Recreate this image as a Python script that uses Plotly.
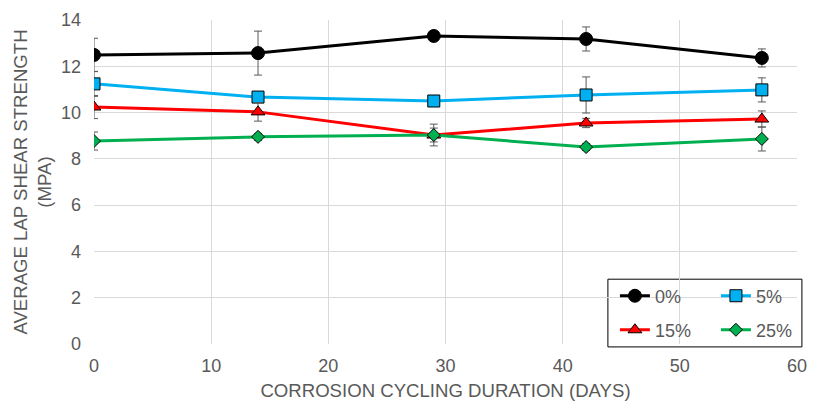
import plotly.graph_objects as go

days = [0, 14, 29, 42, 57]
s0 = [12.49, 12.57, 13.31, 13.18, 12.36]
s0_err = [0.72, 0.95, 0.1, 0.52, 0.39]
s5 = [11.24, 10.67, 10.50, 10.76, 10.98]
s5_err = [0.54, 0.2, 0.1, 0.78, 0.52]
s15 = [10.24, 10.03, 9.03, 9.55, 9.72]
s15_err = [0.5, 0.4, 0.47, 0.2, 0.35]
s25 = [8.77, 8.95, 9.03, 8.51, 8.86]
s25_err = [0.39, 0.15, 0.3, 0.15, 0.52]

names = ["0%", "5%", "15%", "25%"]
values = [s0, s5, s15, s25]
errors = [s0_err, s5_err, s15_err, s25_err]
colors = ["#000000", "#00B0F0", "#FF0000", "#00B050"]
symbols = ["circle", "square", "triangle-up", "diamond"]
msizes = [13, 12, 12, 10]
legends = ["legend", "legend", "legend2", "legend2"]

FONT = "Liberation Sans, Arial, sans-serif"
GRAY = "#595959"
FS = 18
TFS = 18.6

fig = go.Figure()
for n, v, e, c, s, ms, lg in zip(names, values, errors, colors, symbols, msizes, legends):
    fig.add_trace(go.Scatter(
        x=days, y=v, name=n, mode="lines+markers",
        line=dict(color=c, width=3),
        marker=dict(symbol=s, size=ms, color=c, line=dict(color="#000000", width=1)),
        error_y=dict(type="data", array=e, visible=True, color=GRAY, thickness=1, width=4),
        legend=lg,
    ))

fig.update_layout(
    width=814, height=405,
    margin=dict(l=94, r=17, t=20, b=61, autoexpand=False),
    paper_bgcolor="white", plot_bgcolor="white",
    font=dict(family=FONT, size=FS, color=GRAY),
    xaxis=dict(
        range=[0, 60], dtick=10, tick0=0, automargin=False,
        showgrid=True, gridcolor="#D9D9D9", gridwidth=1,
        zeroline=False, showline=False, ticks="", ticklabelstandoff=9,
        title=dict(text="CORROSION CYCLING DURATION (DAYS)", font=dict(size=TFS, color=GRAY), standoff=8),
        tickfont=dict(size=FS, color=GRAY),
    ),
    yaxis=dict(
        range=[0, 14], dtick=2, tick0=0, automargin=False,
        showgrid=True, gridcolor="#D9D9D9", gridwidth=1,
        zeroline=False, showline=False, ticks="", ticklabelstandoff=12,
        title=dict(text="AVERAGE LAP SHEAR STRENGTH<br>(MPA)", font=dict(size=TFS, color=GRAY), standoff=4),
        tickfont=dict(size=FS, color=GRAY),
    ),
    legend=dict(
        orientation="h", x=0.741, y=0.148, xanchor="left", yanchor="middle",
        bgcolor="rgba(0,0,0,0)", borderwidth=0,
        font=dict(size=FS, color=GRAY), entrywidth=56, itemsizing="trace",
    ),
    legend2=dict(
        orientation="h", x=0.741, y=0.043, xanchor="left", yanchor="middle",
        bgcolor="rgba(0,0,0,0)", borderwidth=0,
        font=dict(size=FS, color=GRAY), entrywidth=56, itemsizing="trace",
    ),
    shapes=[dict(type="rect", xref="paper", yref="paper",
                 x0=0.731, x1=1.007, y0=-0.009, y1=0.2,
                 line=dict(color="#000000", width=1), fillcolor="white", layer="below")],
)

fig.write_html("out.html", config={"displayModeBar": False},
               post_script="document.body.style.margin='0px';")
